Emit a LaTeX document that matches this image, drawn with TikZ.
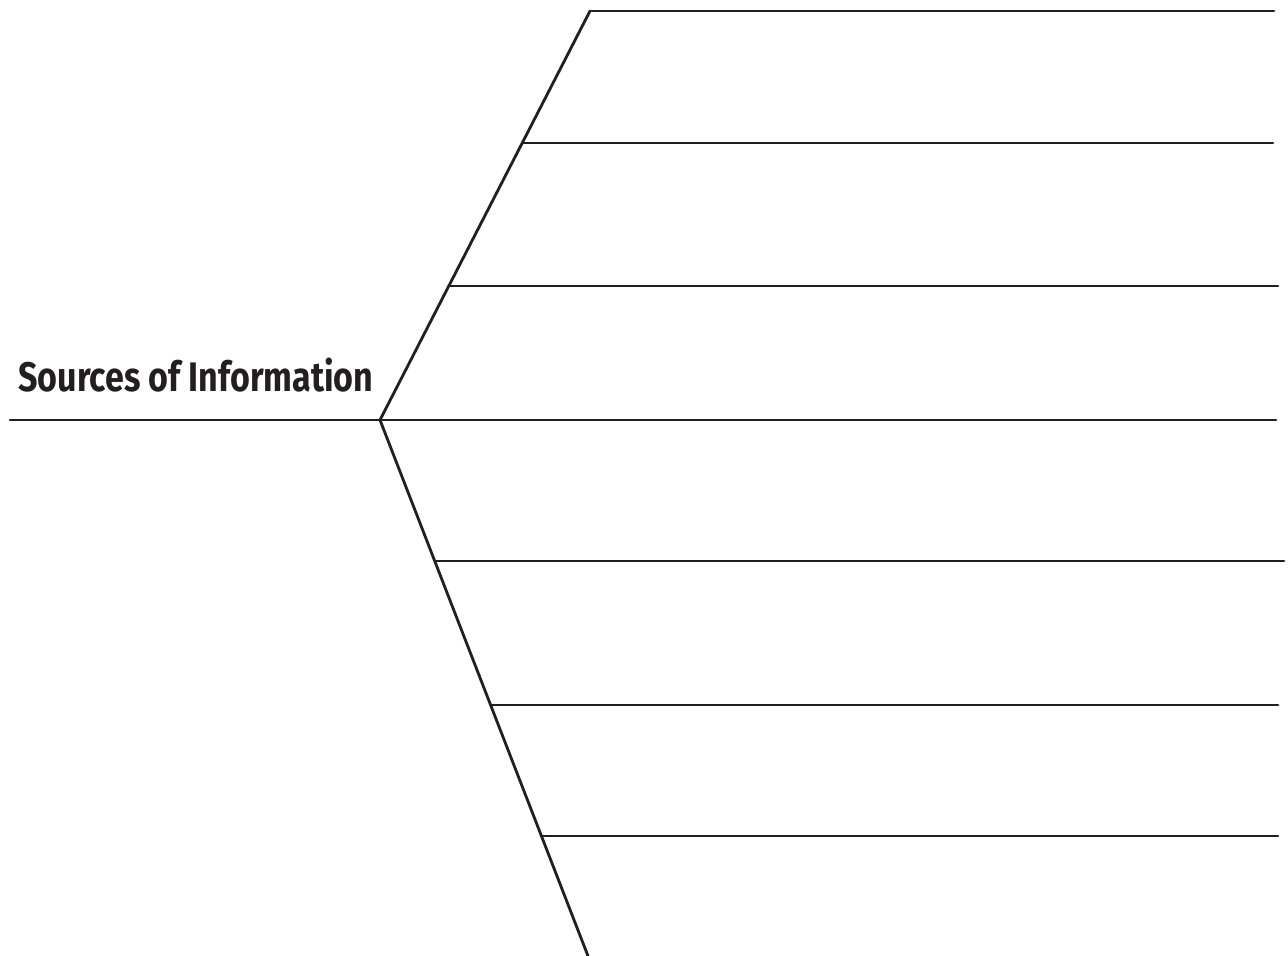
\documentclass[tikz,border=0pt]{standalone}
\usepackage{fontspec}
\setmainfont{Fira Sans}
\usepackage{tkz-euclide}

\definecolor{inkline}{HTML}{231F20}

\begin{document}
\begin{tikzpicture}[x=0.02cm,y=-0.02cm]
  \useasboundingbox (0,0) rectangle (1288,956);

  % spine and the two bones
  \tkzDefPoint(380,420){O}
  \tkzDefPoint(10,420){T}
  \tkzDefPoint(1276,420){E}
  \tkzDefPoint(590,11){U}
  \tkzDefPoint(588,956){L}
  \tkzDrawSegments[color=inkline,line width=1.6pt](T,E O,U O,L)

  % writing lines, upper bone
  \foreach \y/\xa/\xb [count=\i] in {11/590/1274,143/522/1273,286/450/1278}
  { \tkzDefPoint(\xa,\y){u\i}
    \tkzDefPoint(\xb,\y){v\i}
    \tkzDrawSegment[color=inkline,line width=1.6pt](u\i,v\i) }

  % writing lines, lower bone
  \foreach \y/\xa/\xb [count=\i] in {561/435/1284,705/491/1278,836/541/1278}
  { \tkzDefPoint(\xa,\y){p\i}
    \tkzDefPoint(\xb,\y){q\i}
    \tkzDrawSegment[color=inkline,line width=1.6pt](p\i,q\i) }

  \node[anchor=base west,inner sep=0pt,text=inkline] (title) at (18,391)
    {\resizebox{7.1cm}{0.67cm}{\bfseries Sources of Information}};
\end{tikzpicture}
\end{document}
